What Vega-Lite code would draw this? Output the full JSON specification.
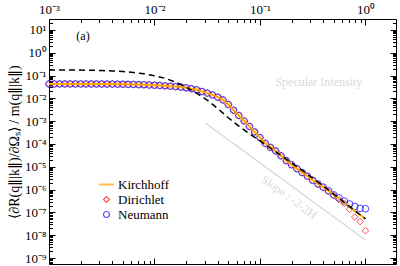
{
"$schema": "https://vega.github.io/schema/vega-lite/v6.json",
"width": 347, "height": 245,
"autosize": {"type": "none"},
"padding": {"left": 49, "top": 19, "right": 4, "bottom": 2},
"config": {"font": "Liberation Serif", "view": {"stroke": "black", "strokeWidth": 1},
  "axis": {"grid": false, "domain": false, "tickColor": "black", "tickWidth": 1, "labelColor": "black", "labelFont": "Liberation Serif", "labelFontSize": 13, "titleFont": "Liberation Serif", "titleFontWeight": "normal", "titleColor": "black", "labelOverlap": false, "labelFlush": false, "labelBound": false}},
"datasets": {
"points": [
{"x":0.001,"y":0.04285,"series":"Dirichlet"},{"x":0.001122,"y":0.04285,"series":"Dirichlet"},{"x":0.001259,"y":0.04285,"series":"Dirichlet"},{"x":0.001413,"y":0.04285,"series":"Dirichlet"},{"x":0.001585,"y":0.04276,"series":"Dirichlet"},{"x":0.001778,"y":0.04276,"series":"Dirichlet"},{"x":0.001995,"y":0.04276,"series":"Dirichlet"},{"x":0.002239,"y":0.04266,"series":"Dirichlet"},{"x":0.002512,"y":0.04266,"series":"Dirichlet"},{"x":0.002818,"y":0.04256,"series":"Dirichlet"},
{"x":0.003162,"y":0.04246,"series":"Dirichlet"},{"x":0.003548,"y":0.04227,"series":"Dirichlet"},{"x":0.003981,"y":0.04207,"series":"Dirichlet"},{"x":0.004467,"y":0.04178,"series":"Dirichlet"},{"x":0.005012,"y":0.0415,"series":"Dirichlet"},{"x":0.005623,"y":0.04111,"series":"Dirichlet"},{"x":0.00631,"y":0.04064,"series":"Dirichlet"},{"x":0.007079,"y":0.04009,"series":"Dirichlet"},{"x":0.007943,"y":0.03936,"series":"Dirichlet"},{"x":0.008913,"y":0.03855,"series":"Dirichlet"},
{"x":0.01,"y":0.03758,"series":"Dirichlet"},{"x":0.01122,"y":0.03656,"series":"Dirichlet"},{"x":0.01259,"y":0.0354,"series":"Dirichlet"},{"x":0.01413,"y":0.03412,"series":"Dirichlet"},{"x":0.01585,"y":0.03266,"series":"Dirichlet"},{"x":0.01778,"y":0.03105,"series":"Dirichlet"},{"x":0.01995,"y":0.02897,"series":"Dirichlet"},{"x":0.02239,"y":0.02649,"series":"Dirichlet"},{"x":0.02512,"y":0.02371,"series":"Dirichlet"},{"x":0.02818,"y":0.01995,"series":"Dirichlet"},
{"x":0.03162,"y":0.01698,"series":"Dirichlet"},{"x":0.03548,"y":0.01413,"series":"Dirichlet"},{"x":0.03981,"y":0.01122,"series":"Dirichlet"},{"x":0.04467,"y":0.008511,"series":"Dirichlet"},{"x":0.05012,"y":0.00537,"series":"Dirichlet"},{"x":0.05623,"y":0.00302,"series":"Dirichlet"},{"x":0.0631,"y":0.001778,"series":"Dirichlet"},{"x":0.07079,"y":0.001023,"series":"Dirichlet"},{"x":0.07943,"y":0.0005888,"series":"Dirichlet"},{"x":0.08913,"y":0.0003388,"series":"Dirichlet"},
{"x":0.1,"y":0.0001905,"series":"Dirichlet"},{"x":0.1122,"y":0.0001072,"series":"Dirichlet"},{"x":0.1259,"y":7.079e-5,"series":"Dirichlet"},{"x":0.1413,"y":4.898e-5,"series":"Dirichlet"},{"x":0.1585,"y":3.02e-5,"series":"Dirichlet"},{"x":0.1778,"y":1.862e-5,"series":"Dirichlet"},{"x":0.1995,"y":1.23e-5,"series":"Dirichlet"},{"x":0.2239,"y":8.318e-6,"series":"Dirichlet"},{"x":0.2512,"y":5.623e-6,"series":"Dirichlet"},{"x":0.2818,"y":3.89e-6,"series":"Dirichlet"},
{"x":0.3162,"y":2.57e-6,"series":"Dirichlet"},{"x":0.3548,"y":1.698e-6,"series":"Dirichlet"},{"x":0.3981,"y":1.202e-6,"series":"Dirichlet"},{"x":0.4467,"y":8.318e-7,"series":"Dirichlet"},{"x":0.5012,"y":5.495e-7,"series":"Dirichlet"},{"x":0.5623,"y":3.631e-7,"series":"Dirichlet"},{"x":0.631,"y":2.512e-7,"series":"Dirichlet"},{"x":0.7079,"y":1.38e-7,"series":"Dirichlet"},{"x":0.7943,"y":6.31e-8,"series":"Dirichlet"},{"x":0.8913,"y":3.981e-8,"series":"Dirichlet"},{"x":1,"y":1.585e-8,"series":"Dirichlet"},
{"x":0.001,"y":0.04285,"series":"Neumann"},{"x":0.001122,"y":0.04285,"series":"Neumann"},{"x":0.001259,"y":0.04285,"series":"Neumann"},{"x":0.001413,"y":0.04285,"series":"Neumann"},{"x":0.001585,"y":0.04276,"series":"Neumann"},{"x":0.001778,"y":0.04276,"series":"Neumann"},{"x":0.001995,"y":0.04276,"series":"Neumann"},{"x":0.002239,"y":0.04266,"series":"Neumann"},{"x":0.002512,"y":0.04266,"series":"Neumann"},{"x":0.002818,"y":0.04256,"series":"Neumann"},
{"x":0.003162,"y":0.04246,"series":"Neumann"},{"x":0.003548,"y":0.04227,"series":"Neumann"},{"x":0.003981,"y":0.04207,"series":"Neumann"},{"x":0.004467,"y":0.04178,"series":"Neumann"},{"x":0.005012,"y":0.0415,"series":"Neumann"},{"x":0.005623,"y":0.04111,"series":"Neumann"},{"x":0.00631,"y":0.04064,"series":"Neumann"},{"x":0.007079,"y":0.04009,"series":"Neumann"},{"x":0.007943,"y":0.03936,"series":"Neumann"},{"x":0.008913,"y":0.03855,"series":"Neumann"},
{"x":0.01,"y":0.03758,"series":"Neumann"},{"x":0.01122,"y":0.03656,"series":"Neumann"},{"x":0.01259,"y":0.0354,"series":"Neumann"},{"x":0.01413,"y":0.03412,"series":"Neumann"},{"x":0.01585,"y":0.03266,"series":"Neumann"},{"x":0.01778,"y":0.03105,"series":"Neumann"},{"x":0.01995,"y":0.02897,"series":"Neumann"},{"x":0.02239,"y":0.02649,"series":"Neumann"},{"x":0.02512,"y":0.02371,"series":"Neumann"},{"x":0.02818,"y":0.01995,"series":"Neumann"},
{"x":0.03162,"y":0.01698,"series":"Neumann"},{"x":0.03548,"y":0.01413,"series":"Neumann"},{"x":0.03981,"y":0.01122,"series":"Neumann"},{"x":0.04467,"y":0.008511,"series":"Neumann"},{"x":0.05012,"y":0.00537,"series":"Neumann"},{"x":0.05623,"y":0.00302,"series":"Neumann"},{"x":0.0631,"y":0.001778,"series":"Neumann"},{"x":0.07079,"y":0.001023,"series":"Neumann"},{"x":0.07943,"y":0.0005888,"series":"Neumann"},{"x":0.08913,"y":0.0003388,"series":"Neumann"},
{"x":0.1,"y":0.0001905,"series":"Neumann"},{"x":0.1122,"y":0.0001072,"series":"Neumann"},{"x":0.1259,"y":7.079e-5,"series":"Neumann"},{"x":0.1413,"y":4.898e-5,"series":"Neumann"},{"x":0.1585,"y":3.02e-5,"series":"Neumann"},{"x":0.1778,"y":1.862e-5,"series":"Neumann"},{"x":0.1995,"y":1.23e-5,"series":"Neumann"},{"x":0.2239,"y":8.318e-6,"series":"Neumann"},{"x":0.2512,"y":5.623e-6,"series":"Neumann"},{"x":0.2818,"y":3.89e-6,"series":"Neumann"},
{"x":0.3162,"y":2.57e-6,"series":"Neumann"},{"x":0.3548,"y":1.778e-6,"series":"Neumann"},{"x":0.3981,"y":1.288e-6,"series":"Neumann"},{"x":0.4467,"y":8.913e-7,"series":"Neumann"},{"x":0.5012,"y":5.888e-7,"series":"Neumann"},{"x":0.5623,"y":4.365e-7,"series":"Neumann"},{"x":0.631,"y":3.162e-7,"series":"Neumann"},{"x":0.7079,"y":2.344e-7,"series":"Neumann"},{"x":0.7943,"y":1.82e-7,"series":"Neumann"},{"x":0.8913,"y":1.514e-7,"series":"Neumann"},{"x":1,"y":1.445e-7,"series":"Neumann"}
],
"kirchhoff": [
{"x":0.001,"y":0.04285},{"x":0.001122,"y":0.04285},{"x":0.001259,"y":0.04285},{"x":0.001413,"y":0.04285},{"x":0.001585,"y":0.04276},{"x":0.001778,"y":0.04276},{"x":0.001995,"y":0.04276},{"x":0.002239,"y":0.04266},{"x":0.002512,"y":0.04266},{"x":0.002818,"y":0.04256},
{"x":0.003162,"y":0.04246},{"x":0.003548,"y":0.04227},{"x":0.003981,"y":0.04207},{"x":0.004467,"y":0.04178},{"x":0.005012,"y":0.0415},{"x":0.005623,"y":0.04111},{"x":0.00631,"y":0.04064},{"x":0.007079,"y":0.04009},{"x":0.007943,"y":0.03936},{"x":0.008913,"y":0.03855},
{"x":0.01,"y":0.03758},{"x":0.01122,"y":0.03656},{"x":0.01259,"y":0.0354},{"x":0.01413,"y":0.03412},{"x":0.01585,"y":0.03266},{"x":0.01778,"y":0.03105},{"x":0.01995,"y":0.02897},{"x":0.02239,"y":0.02649},{"x":0.02512,"y":0.02371},{"x":0.02818,"y":0.01995},
{"x":0.03162,"y":0.01698},{"x":0.03548,"y":0.01413},{"x":0.03981,"y":0.01122},{"x":0.04467,"y":0.008511},{"x":0.05012,"y":0.00537},{"x":0.05623,"y":0.00302},{"x":0.0631,"y":0.001778},{"x":0.07079,"y":0.001023},{"x":0.07943,"y":0.0005888},{"x":0.08913,"y":0.0003388},
{"x":0.1,"y":0.0001905},{"x":0.1122,"y":0.0001072},{"x":0.1259,"y":7.079e-5},{"x":0.1413,"y":4.898e-5},{"x":0.1585,"y":3.02e-5},{"x":0.1778,"y":1.862e-5},{"x":0.1995,"y":1.23e-5},{"x":0.2239,"y":8.318e-6},{"x":0.2512,"y":5.623e-6},{"x":0.2818,"y":3.89e-6},
{"x":0.3162,"y":2.57e-6},{"x":0.3548,"y":1.778e-6},{"x":0.3981,"y":1.288e-6},{"x":0.4467,"y":8.913e-7},{"x":0.5012,"y":5.754e-7},{"x":0.5623,"y":3.89e-7},{"x":0.631,"y":2.63e-7},{"x":0.7079,"y":1.738e-7},{"x":0.7943,"y":1.175e-7},{"x":0.8913,"y":7.943e-8},{"x":1,"y":5.248e-8}
],
"dashed": [
{"x":0.001,"y":0.1762},{"x":0.001585,"y":0.1746},{"x":0.002512,"y":0.1706},{"x":0.003162,"y":0.166},{"x":0.003981,"y":0.1592},{"x":0.005012,"y":0.1493},{"x":0.00631,"y":0.1361},{"x":0.007943,"y":0.1189},{"x":0.01,"y":0.09886},{"x":0.01259,"y":0.07586},
{"x":0.01585,"y":0.05129},{"x":0.01995,"y":0.0309},{"x":0.02512,"y":0.01698},{"x":0.03162,"y":0.008318},{"x":0.03981,"y":0.003548},{"x":0.05012,"y":0.001413},{"x":0.0631,"y":0.0006026},{"x":0.07943,"y":0.0002818},{"x":0.1,"y":0.000138},
{"x":0.1259,"y":6.607e-5},{"x":0.1585,"y":3.162e-5},{"x":0.1995,"y":1.479e-5},{"x":0.2512,"y":6.918e-6},{"x":0.3162,"y":3.162e-6},{"x":0.3981,"y":1.445e-6},{"x":0.5012,"y":6.31e-7},{"x":0.631,"y":2.754e-7},{"x":0.7943,"y":1.202e-7},{"x":1,"y":5.248e-8}
],
"slope": [{"x":0.0304,"y":8.3e-4},{"x":1,"y":6.2e-9}]
},
"layer": [
{"mark": {"type": "rule", "color": "#d9d9d9", "strokeDash": [7, 4], "strokeWidth": 1.5},
 "encoding": {"y": {"datum": 0.176, "type": "quantitative", "scale": {"type": "log", "domain": [5.5e-10, 30], "nice": false}, "axis": null}}},
{"data": {"values": [{"x": 0.362, "y": 0.052, "label": "Specular Intensity"}]},
 "mark": {"type": "text", "color": "#d9d9d9", "fontSize": 12, "font": "Liberation Serif"},
 "encoding": {"x": {"field": "x", "type": "quantitative", "scale": {"type": "log", "domain": [0.001, 1.95], "nice": false}, "axis": null},
  "y": {"field": "y", "type": "quantitative", "scale": {"type": "log", "domain": [5.5e-10, 30], "nice": false}, "axis": null},
  "text": {"field": "label"}}},
{"data": {"name": "slope"},
 "mark": {"type": "line", "color": "#d9d9d9", "strokeWidth": 1.5},
 "encoding": {"x": {"field": "x", "type": "quantitative", "scale": {"type": "log", "domain": [0.001, 1.95], "nice": false},
   "axis": {"orient": "top", "values": [0.002,0.003,0.004,0.005,0.006,0.007,0.008,0.009,0.02,0.03,0.04,0.05,0.06,0.07,0.08,0.09,0.2,0.3,0.4,0.5,0.6,0.7,0.8,0.9], "tickSize": -3.5, "labels": false, "title": null}},
  "y": {"field": "y", "type": "quantitative", "scale": {"type": "log", "domain": [5.5e-10, 30], "nice": false},
   "axis": {"orient": "left", "values": [6e-10,7e-10,8e-10,9e-10,2e-9,3e-9,4e-9,5e-9,6e-9,7e-9,8e-9,9e-9,2e-8,3e-8,4e-8,5e-8,6e-8,7e-8,8e-8,9e-8,2e-7,3e-7,4e-7,5e-7,6e-7,7e-7,8e-7,9e-7,2e-6,3e-6,4e-6,5e-6,6e-6,7e-6,8e-6,9e-6,2e-5,3e-5,4e-5,5e-5,6e-5,7e-5,8e-5,9e-5,2e-4,3e-4,4e-4,5e-4,6e-4,7e-4,8e-4,9e-4,0.002,0.003,0.004,0.005,0.006,0.007,0.008,0.009,0.02,0.03,0.04,0.05,0.06,0.07,0.08,0.09,0.2,0.3,0.4,0.5,0.6,0.7,0.8,0.9,2,3,4,5,6,7,8,9,20], "tickSize": -3.5, "labels": false, "title": null}}}},
{"data": {"values": [{"x": 0.189, "y": 4.8e-7, "label": "Slope : -2-2H"}]},
 "mark": {"type": "text", "color": "#d9d9d9", "fontSize": 12, "font": "Liberation Serif", "angle": 36},
 "encoding": {"x": {"field": "x", "type": "quantitative", "scale": {"type": "log", "domain": [0.001, 1.95], "nice": false}, "axis": null},
  "y": {"field": "y", "type": "quantitative", "scale": {"type": "log", "domain": [5.5e-10, 30], "nice": false}, "axis": null},
  "text": {"field": "label"}}},
{"data": {"values": [{"x": 0.0021, "y": 5.46, "label": "(a)"}]},
 "mark": {"type": "text", "color": "black", "fontSize": 12, "font": "Liberation Serif"},
 "encoding": {"x": {"field": "x", "type": "quantitative", "scale": {"type": "log", "domain": [0.001, 1.95], "nice": false}, "axis": null},
  "y": {"field": "y", "type": "quantitative", "scale": {"type": "log", "domain": [5.5e-10, 30], "nice": false}, "axis": null},
  "text": {"field": "label"}}},
{"data": {"name": "points"},
 "mark": {"type": "point", "filled": false, "strokeWidth": 1, "size": 45},
 "encoding": {"x": {"field": "x", "type": "quantitative", "scale": {"type": "log", "domain": [0.001, 1.95], "nice": false},
   "axis": {"orient": "bottom", "values": [0.002,0.003,0.004,0.005,0.006,0.007,0.008,0.009,0.02,0.03,0.04,0.05,0.06,0.07,0.08,0.09,0.2,0.3,0.4,0.5,0.6,0.7,0.8,0.9], "tickSize": -3.5, "labels": false, "title": null}},
  "y": {"field": "y", "type": "quantitative", "scale": {"type": "log", "domain": [5.5e-10, 30], "nice": false},
   "axis": {"orient": "right", "values": [6e-10,7e-10,8e-10,9e-10,2e-9,3e-9,4e-9,5e-9,6e-9,7e-9,8e-9,9e-9,2e-8,3e-8,4e-8,5e-8,6e-8,7e-8,8e-8,9e-8,2e-7,3e-7,4e-7,5e-7,6e-7,7e-7,8e-7,9e-7,2e-6,3e-6,4e-6,5e-6,6e-6,7e-6,8e-6,9e-6,2e-5,3e-5,4e-5,5e-5,6e-5,7e-5,8e-5,9e-5,2e-4,3e-4,4e-4,5e-4,6e-4,7e-4,8e-4,9e-4,0.002,0.003,0.004,0.005,0.006,0.007,0.008,0.009,0.02,0.03,0.04,0.05,0.06,0.07,0.08,0.09,0.2,0.3,0.4,0.5,0.6,0.7,0.8,0.9,2,3,4,5,6,7,8,9,20], "tickSize": -3.5, "labels": false, "title": null}},
  "color": {"field": "series", "type": "nominal", "scale": {"domain": ["Kirchhoff", "Dirichlet", "Neumann"], "range": ["#ffa500", "#ff0000", "#0000ff"]},
   "legend": {"title": null, "orient": "none", "legendX": 51, "legendY": 159, "padding": 0, "labelFont": "Liberation Serif", "labelFontSize": 13, "labelColor": "black", "labelOffset": 5, "symbolSize": 36, "rowPadding": 1, "symbolStrokeWidth": {"expr": "datum.value == 'Kirchhoff' ? 2 : 1.2"}}},
  "shape": {"field": "series", "type": "nominal", "scale": {"domain": ["Kirchhoff", "Dirichlet", "Neumann"], "range": ["M-2.5,0L2.5,0", "diamond", "circle"]},
   "legend": {"title": null, "orient": "none", "legendX": 51, "legendY": 159, "padding": 0, "labelFont": "Liberation Serif", "labelFontSize": 13, "labelColor": "black", "labelOffset": 5, "symbolSize": 36, "rowPadding": 1, "symbolStrokeWidth": {"expr": "datum.value == 'Kirchhoff' ? 2 : 1.2"}}}}},
{"data": {"name": "kirchhoff"},
 "mark": {"type": "line", "color": "#ffa500", "strokeWidth": 2},
 "encoding": {"x": {"field": "x", "type": "quantitative", "scale": {"type": "log", "domain": [0.001, 1.95], "nice": false},
   "axis": {"orient": "bottom", "values": [0.001, 0.01, 0.1, 1], "tickSize": -6, "labels": false, "title": null}},
  "y": {"field": "y", "type": "quantitative", "scale": {"type": "log", "domain": [5.5e-10, 30], "nice": false},
   "axis": {"orient": "right", "values": [1e-9,1e-8,1e-7,1e-6,1e-5,1e-4,0.001,0.01,0.1,1,10], "tickSize": -6, "labels": false, "title": null}}}},
{"data": {"name": "dashed"},
 "mark": {"type": "line", "color": "black", "strokeWidth": 1.5, "strokeDash": [6, 4]},
 "encoding": {"x": {"field": "x", "type": "quantitative", "scale": {"type": "log", "domain": [0.001, 1.95], "nice": false},
   "axis": {"orient": "top", "values": [0.001, 0.01, 0.1, 1], "tickSize": -6, "labelPadding": 9, "title": null,
    "labelExpr": "'10' + (round(log(datum.value)/LN10) < 0 ? '⁻' : '') + ['⁰','¹','²','³','⁴','⁵','⁶','⁷','⁸','⁹'][abs(round(log(datum.value)/LN10))]"}},
  "y": {"field": "y", "type": "quantitative", "scale": {"type": "log", "domain": [5.5e-10, 30], "nice": false},
   "axis": {"orient": "left", "values": [1e-9,1e-8,1e-7,1e-6,1e-5,1e-4,0.001,0.01,0.1,1,10], "tickSize": -6, "labelPadding": 9, "titlePadding": 3, "titleFontSize": 14,
    "title": "⟨∂R(q∥|k∥)/∂Ωₛ⟩ / m(q∥|k∥)",
    "labelExpr": "'10' + (round(log(datum.value)/LN10) < 0 ? '⁻' : '') + ['⁰','¹','²','³','⁴','⁵','⁶','⁷','⁸','⁹'][abs(round(log(datum.value)/LN10))]"}}}}
],
"resolve": {"axis": {"x": "independent", "y": "independent"}}
}
